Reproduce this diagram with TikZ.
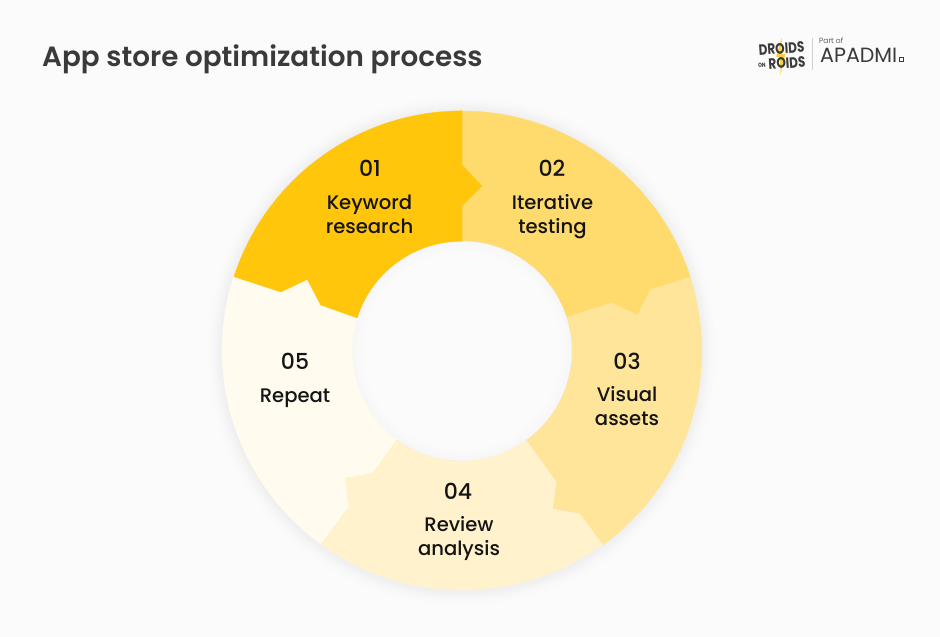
\documentclass[tikz,border=0pt]{standalone}
\usepackage{fontspec}
\setmainfont{Poppins}
\newfontfamily\medfont{Poppins Medium}
\newfontfamily\boldf{Poppins SemiBold}
\newfontfamily\heavyf{Poppins Bold}
\newfontfamily\lightf{Poppins Light}
\definecolor{bgc}{HTML}{FBFBFB}
\definecolor{segA}{HTML}{FFC60B}
\definecolor{segB}{HTML}{FFDB6D}
\definecolor{segC}{HTML}{FFE599}
\definecolor{segD}{HTML}{FFF2CC}
\definecolor{segE}{HTML}{FFFBEF}
\definecolor{titlec}{HTML}{3A3A3A}
\definecolor{boltc}{HTML}{FFD23F}
\tikzset{
  seg/.style={line width=.3pt,line join=miter},
  num/.style={font=\medfont\fontsize{22}{24}\selectfont,text=black!92,inner sep=0pt,anchor=base},
  lab/.style={font=\medfont\fontsize{19.6}{24}\selectfont,text=black!92,inner sep=0pt,align=center,anchor=center},
  logo/.style={font=\heavyf\fontsize{15}{15}\selectfont,text=titlec,inner sep=0pt,rotate=4,xscale=.8,text height=10.5pt,text depth=0pt}
}
\begin{document}
\begin{tikzpicture}[x=1pt,y=1pt]
\useasboundingbox (0,0) rectangle (940,637);
\fill[bgc] (0,0) rectangle (940,637);
\coordinate (c) at (462,286);
% soft shadow
\foreach \r/\m in {254/1,252/2,250/3,248/4,246/5,244/6,242/7}{
  \fill[black!\m!bgc,opacity=.18] (c) circle (\r pt);
}
% boundary points
\coordinate (o1) at (234,360.3);
\coordinate (a1) at (281,345);
\coordinate (t1) at (307.3,357.7);
\coordinate (b1) at (320.7,332);
\coordinate (i1) at (357.7,320);
\coordinate (o2) at (462,526);
\coordinate (a2) at (462,472);
\coordinate (t2) at (482,451);
\coordinate (b2) at (462,431);
\coordinate (i2) at (462,395);
\coordinate (o3) at (690,360.3);
\coordinate (a3) at (650,348);
\coordinate (t3) at (637.3,322.7);
\coordinate (b3) at (611.7,334.7);
\coordinate (i3) at (566.7,320.3);
\coordinate (o4) at (603,92.8);
\coordinate (a4) at (580,123.7);
\coordinate (t4) at (553.3,128.7);
\coordinate (b4) at (556.7,155.3);
\coordinate (i4) at (526.7,197);
\coordinate (o5) at (321,92.8);
\coordinate (a5) at (349,130.3);
\coordinate (t5) at (345,158.7);
\coordinate (b5) at (372.7,163.7);
\coordinate (i5) at (396.7,197);
% segments
\filldraw[seg,segE,draw=segE] (o1) -- (a1) -- (t1) -- (b1) -- (i1)
  arc (162:234:110pt) -- (b5) -- (t5) -- (a5) -- (o5)
  arc (234:162:240pt) -- cycle;
\filldraw[seg,segD,draw=segD] (o5) -- (a5) -- (t5) -- (b5) -- (i5)
  arc (234:306:110pt) -- (b4) -- (t4) -- (a4) -- (o4)
  arc (306:234:240pt) -- cycle;
\filldraw[seg,segC,draw=segC] (o4) -- (a4) -- (t4) -- (b4) -- (i4)
  arc (306:378:110pt) -- (b3) -- (t3) -- (a3) -- (o3)
  arc (18:-54:240pt) -- cycle;
\filldraw[seg,segB,draw=segB] (o3) -- (a3) -- (t3) -- (b3) -- (i3)
  arc (18:90:110pt) -- (b2) -- (t2) -- (a2) -- (o2)
  arc (90:18:240pt) -- cycle;
\filldraw[seg,segA,draw=segA] (o2) -- (a2) -- (t2) -- (b2) -- (i2)
  arc (90:162:110pt) -- (b1) -- (t1) -- (a1) -- (o1)
  arc (162:90:240pt) -- cycle;
% hole shadow
\foreach \r/\m in {109.5/1.6,107/1.2,105/.9,103/.6,101/.3}{
  \fill[black!\m!bgc] (c) circle (\r pt);
}
\fill[bgc] (c) circle (99pt);
% labels
\node[num] (n1) at (370,460) {01};
\node[lab] (l1) at (369.5,420) {\strut Keyword\\research\strut};
\node[num] (n2) at (552,460) {02};
\node[lab] (l2) at (552.5,420) {\strut Iterative\\testing\strut};
\node[num] (n3) at (627,267) {03};
\node[lab] (l3) at (627,228) {\strut Visual\\assets\strut};
\node[num] (n4) at (458,137) {04};
\node[lab] (l4) at (459,98.5) {\strut Review\\analysis\strut};
\node[num] (n5) at (295,267) {05};
\node[lab] (l5) at (295,239.5) {\strut Repeat};
% title
\node[font=\boldf\fontsize{27.8}{28}\selectfont,text=titlec,inner sep=0pt,anchor=base west] (title) at (42,570) {App store optimization process};
% logo
\fill[boltc] (781.5,599) -- (776,580) -- (780,580) -- (780.5,562.5) -- (785.5,583) -- (781.5,583) -- cycle;
\node[logo] (d1) at (781.5,588.5) {DROIDS};
\node[logo,font=\heavyf\fontsize{6}{6}\selectfont,text height=4.5pt] (d2) at (762,572) {ON};
\node[logo] (d3) at (787,574) {ROIDS};
\draw[black!18,line width=.8pt] (812.5,599) -- (812.5,567);
\node[font=\lightf\fontsize{7.5}{7.5}\selectfont,text=titlec,inner sep=0pt,anchor=west] (partof) at (819,596) {Part of};
\node[font=\fontsize{20.6}{20.6}\selectfont,text=titlec,inner sep=0pt,anchor=west] (apadmi) at (820,582) {APADMI};
\draw[titlec,line width=1.1pt] (899.5,575.5) rectangle (903.5,579.5);
\end{tikzpicture}
\end{document}
